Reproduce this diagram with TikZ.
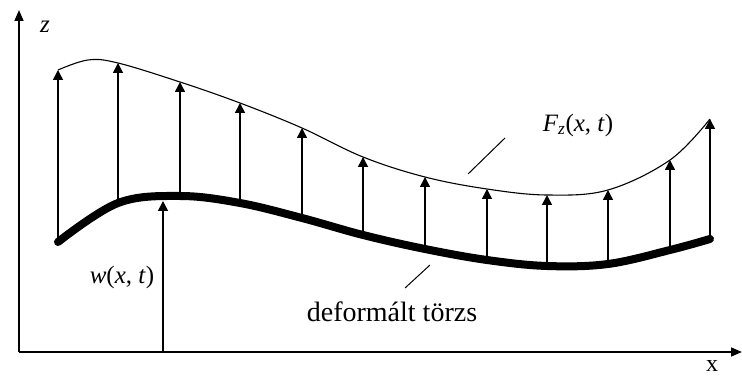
\documentclass[tikz,border=0pt]{standalone}
\usepackage{fontspec}
\setmainfont{Liberation Serif}
\usetikzlibrary{arrows.meta}
\begin{document}
\begin{tikzpicture}[x=1pt,y=-1pt,
  axis/.style={line width=1.6pt,-{Triangle[length=11pt,width=9pt]}},
  force/.style={line width=1.5pt,-{Triangle[length=10pt,width=10pt]}},
  beam/.style={line width=8pt,line cap=round},
  load/.style={line width=1.1pt},
  leader/.style={line width=1pt},
  lab/.style={font=\fontsize{25}{27}\selectfont,inner sep=0pt}]
\useasboundingbox (0,0) rectangle (742,379);
% axes
\coordinate (O) at (19,352);
\coordinate (zend) at (19,10);
\coordinate (xend) at (742,352);
\draw[axis] (O) -- (zend);
\draw[axis] (O) -- (xend);
\node[lab] (zlab) at (45,27) {\textit{z}};
\node[lab,anchor=base,font=\fontsize{24}{26}\selectfont] (xlab) at (712,372) {x};
% beam and load points
\foreach \n/\x/\yb/\yt in {1/58/242/70, 2/118/203/63, 3/180/196/82, 4/240/203/103,
    5/302/218/128, 6/363/235/157, 7/425/249/177, 8/487/260/189,
    9/547/266/195, 10/608/264/190, 11/670/250/160, 12/710/239/119}{
  \coordinate (b\n) at (\x,\yb);
  \coordinate (t\n) at (\x,\yt);
}
\coordinate (tpeak) at (88,60);
\draw[load] plot[smooth,tension=0.6] coordinates {(t1) (tpeak) (t2) (t3) (t4) (t5)
  (t6) (t7) (t8) (t9) (t10) (t11) (t12)};
\foreach \n in {1,...,12}
  \draw[force] (b\n) -- (t\n);
\draw[beam] plot[smooth,tension=0.6] coordinates {(b1) (b2) (b3) (b4) (b5)
  (b6) (b7) (b8) (b9) (b10) (b11) (b12)};
% displacement
\coordinate (w0) at (163,352);
\coordinate (w1) at (163,201);
\draw[force] (w0) -- (w1);
\node[lab] (wlab) at (122,277) {\textit{w}(\textit{x}, \textit{t})};
% labels
\node[lab] (flab) at (578,125) {\textit{F}\textsubscript{\textit{z}}(\textit{x}, \textit{t})};
\coordinate (f0) at (505,138);
\coordinate (f1) at (468,174);
\draw[leader] (f0) -- (f1);
\node[lab,font=\fontsize{28}{30}\selectfont] (dlab) at (392,312) {deformált törzs};
\coordinate (d0) at (430,265);
\coordinate (d1) at (405,288);
\draw[leader] (d0) -- (d1);
\end{tikzpicture}
\end{document}
